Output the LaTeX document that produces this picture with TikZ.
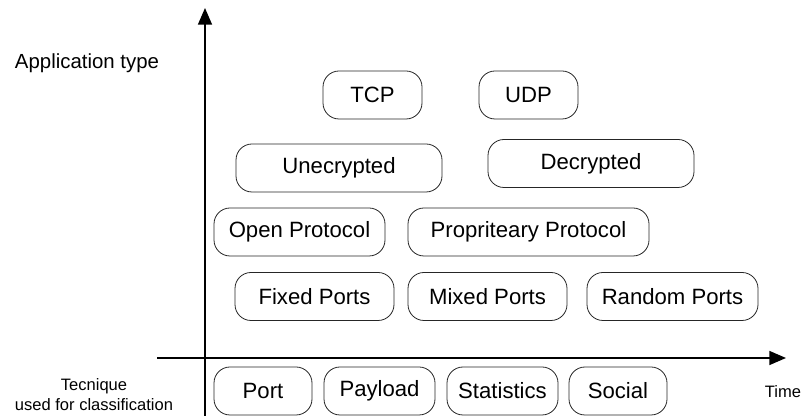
\documentclass[tikz,border=0pt]{standalone}
\usepackage{fontspec}
\setmainfont{Liberation Sans}
\usetikzlibrary{arrows.meta}

\begin{document}
\begin{tikzpicture}[x=0.75pt,y=-0.75pt,
    tag/.style={rectangle, rounded corners=12pt, draw=black!85, line width=0.6pt,
        minimum height=36pt, inner sep=0pt, font=\fontsize{16.6}{19}\selectfont},
    axis/.style={line width=1.1pt, -{Triangle[length=12.5pt,width=10.5pt]}},
    caption/.style={font=\fontsize{12.4}{15}\selectfont, align=center, inner sep=0pt}]
% Constants
\def\pxToPt{0.75} % one pixel of the reference in pt
\useasboundingbox (0,0) rectangle (808,416);

% Axes
\coordinate (yaxis-start) at (205,416);
\coordinate (yaxis-end) at (205,8);
\coordinate (xaxis-start) at (157,358);
\coordinate (xaxis-end) at (786,358);
\draw[axis] (yaxis-start) -- (yaxis-end);
\draw[axis] (xaxis-start) -- (xaxis-end);

% Application type boxes (name/text/x/y/width in px)
\foreach \name/\label/\x/\y/\w in {
    tcp/TCP/372.5/95/99,
    udp/UDP/528.5/95/99,
    unencrypted/Unecrypted/339/168/206,
    decrypted/Decrypted/591/163.5/206,
    open/Open Protocol/299.5/232/171,
    proprietary/Propriteary Protocol/528.5/232/241,
    fixed/Fixed Ports/314.5/296.5/159,
    mixed/Mixed Ports/487.5/296.5/159,
    random/Random Ports/672.5/296.5/171} {
    \node[tag, minimum width=\w*\pxToPt pt] (\name) at (\x,\y) {\label};
}

% Technique boxes below the time axis
\foreach \name/\label/\x/\w in {
    port/Port/263/98,
    payload/Payload/379.5/111,
    statistics/Statistics/502.5/111,
    social/Social/618/98} {
    \node[tag, minimum width=\w*\pxToPt pt] (\name) at (\x,391) {\label};
}

% Axis labels
\node[inner sep=0pt, font=\fontsize{15.3}{18}\selectfont] (apptype) at (87,63) {Application type};
\node[caption] (technique) at (94,395) {Tecnique\\used for classification};
\node[caption] (time) at (783,392) {Time};

\end{tikzpicture}
\end{document}
